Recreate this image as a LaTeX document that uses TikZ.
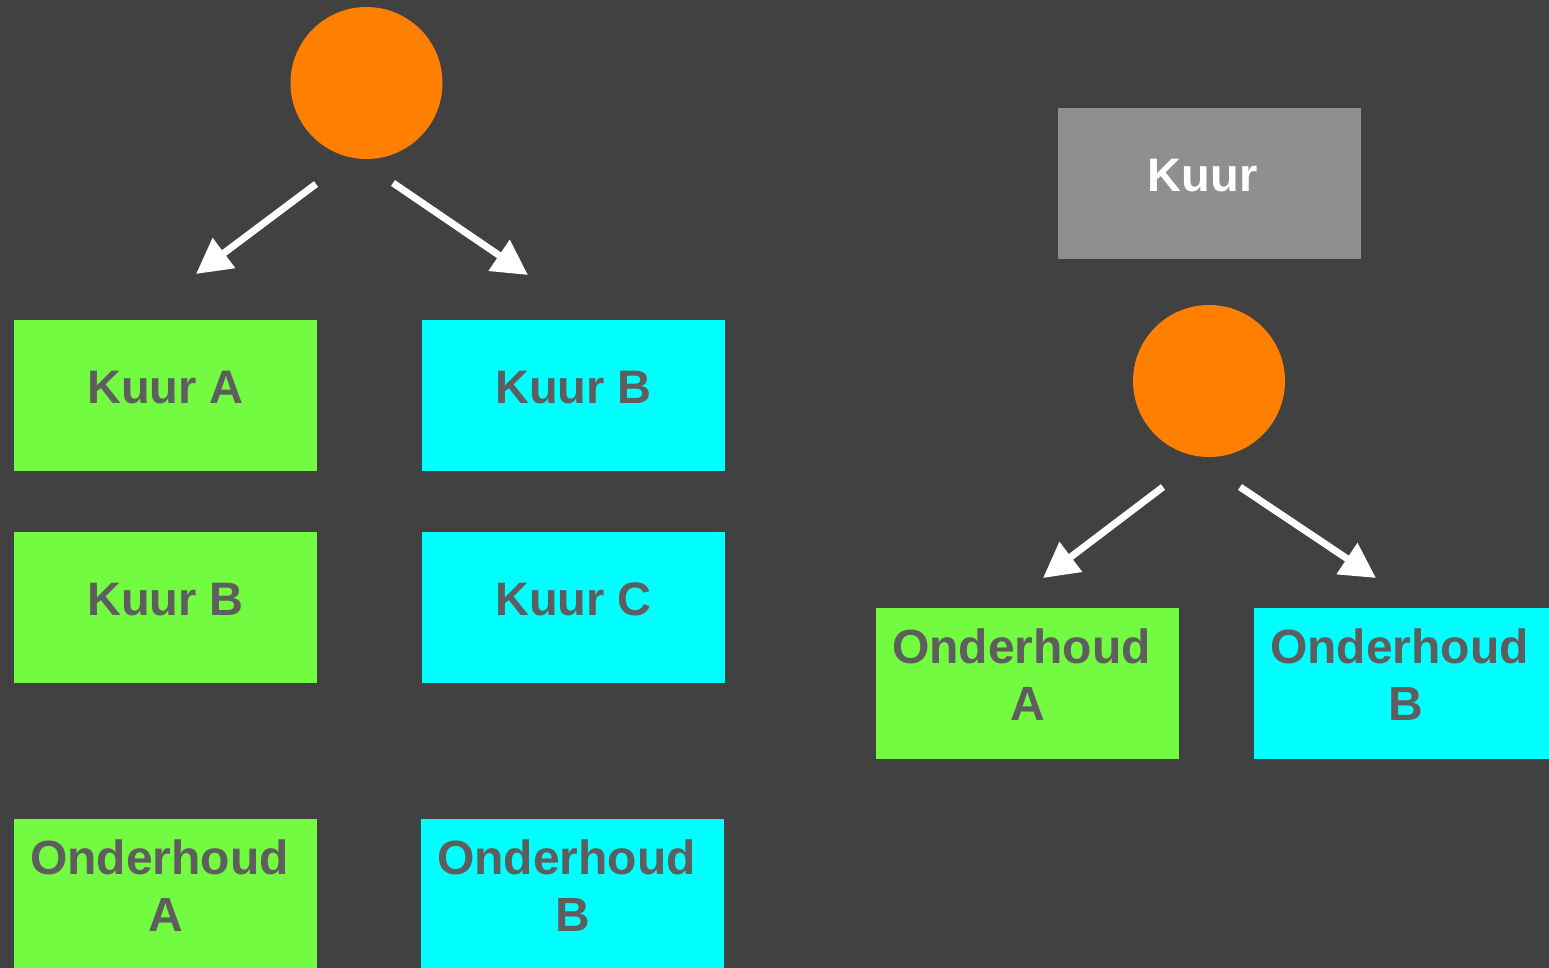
\documentclass[tikz,border=0pt]{standalone}
\usepackage{fontspec}
\setmainfont{Liberation Sans}
\usetikzlibrary{arrows.meta,calc}
\definecolor{bg}{RGB}{65,65,65}
\definecolor{leaf}{RGB}{115,251,65}
\definecolor{aqua}{RGB}{0,255,255}
\definecolor{dot}{RGB}{255,127,0}
\definecolor{slate}{RGB}{143,143,143}
\definecolor{ink}{RGB}{94,94,94}
\newcommand{\twoline}[2]{#1\hspace*{12pt}\\#2}
\tikzset{
  box/.style={rectangle, draw=none, minimum width=303pt, minimum height=151pt, inner sep=0pt, outer sep=0pt},
  hub/.style={circle, fill=dot, draw=none, minimum size=152pt, inner sep=0pt},
  lbl/.style={font=\bfseries\fontsize{47}{57}\selectfont, text=ink, inner sep=0pt, align=center, anchor=base},
  lbl2/.style={lbl, font=\bfseries\fontsize{48}{57}\selectfont},
  link/.style={draw=white, line width=7pt, -{Triangle[length=35pt,width=36pt]}},
}
\begin{document}
\begin{tikzpicture}[x=1pt,y=-1pt]
  \fill[bg] (0,0) rectangle (1549,968);
  \useasboundingbox (0,0) rectangle (1549,968);

  % left tree: split of a course into two branches
  \node[hub] (h1) at (366.5,83) {};
  \coordinate (h1l) at (316,184);
  \coordinate (h1r) at (393,183);
  \coordinate (t1l) at (196,274);
  \coordinate (t1r) at (528,275);
  \draw[link] (h1l) -- (t1l);
  \draw[link] (h1r) -- (t1r);

  \node[box, fill=leaf] (ka) at (165.5,395.5) {};
  \node[lbl] (kat) at ($(ka.north)+(0,83)$) {Kuur A};
  \node[box, fill=aqua] (kb) at (573.5,395.5) {};
  \node[lbl] (kbt) at ($(kb.north)+(0,83)$) {Kuur B};
  \node[box, fill=leaf] (kb2) at (165.5,607.5) {};
  \node[lbl] (kb2t) at ($(kb2.north)+(0,83)$) {Kuur B};
  \node[box, fill=aqua] (kc) at (573.5,607.5) {};
  \node[lbl] (kct) at ($(kc.north)+(0,83)$) {Kuur C};
  \node[box, fill=leaf] (oa) at (165.5,894.5) {};
  \node[lbl2] (oat) at ($(oa.north)+(0,112)$) {\twoline{Onderhoud}{A}};
  \node[box, fill=aqua] (ob) at (572.5,894.5) {};
  \node[lbl2] (obt) at ($(ob.north)+(0,112)$) {\twoline{Onderhoud}{B}};

  % right tree: one course splitting into maintenance
  \node[box, fill=slate] (k) at (1209.5,183.5) {};
  \node[lbl, text=white] (kt) at ($(k.north)+(-7,84)$) {Kuur};
  \node[hub] (h2) at (1209,381) {};
  \coordinate (h2l) at (1163,487);
  \coordinate (h2r) at (1240,487);
  \coordinate (t2l) at (1043,578);
  \coordinate (t2r) at (1376,578);
  \draw[link] (h2l) -- (t2l);
  \draw[link] (h2r) -- (t2r);

  \node[box, fill=leaf] (ra) at (1027.5,683.5) {};
  \node[lbl2] (rat) at ($(ra.north)+(0,112)$) {\twoline{Onderhoud}{A}};
  \node[box, fill=aqua] (rb) at (1405.5,683.5) {};
  \node[lbl2] (rbt) at ($(rb.north)+(0,112)$) {\twoline{Onderhoud}{B}};
\end{tikzpicture}
\end{document}
